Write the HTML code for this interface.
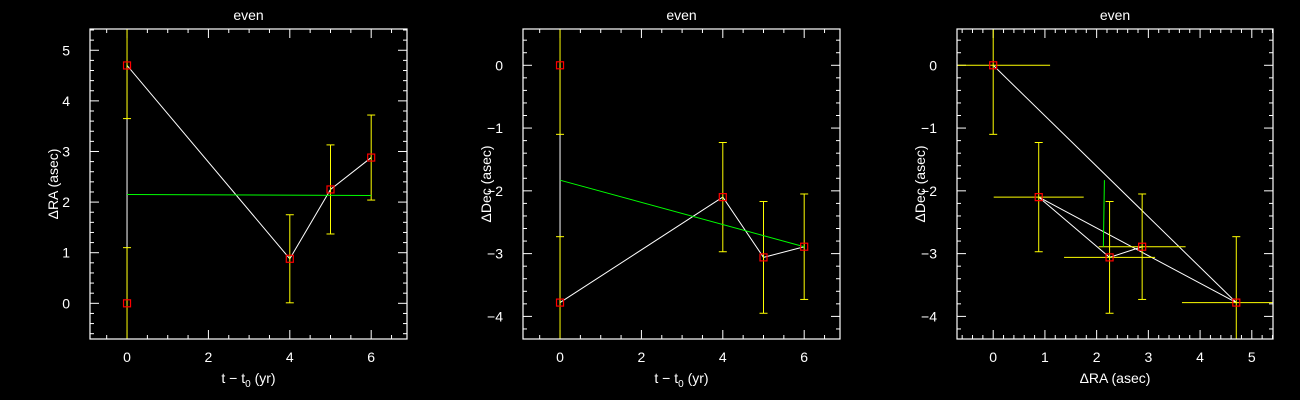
<!DOCTYPE html>
<html><head><meta charset="utf-8"><style>
html,body{margin:0;padding:0;background:#000;}
svg{display:block;}
text{font-family:"Liberation Sans","DejaVu Sans",sans-serif;fill:#fff;font-size:14px;}
</style></head><body>
<svg id="svg" width="1300" height="400" xmlns="http://www.w3.org/2000/svg"></svg>
<script>
const tYears=[0,0,4,5,6];
const raVals=[0,4.7,0.88,2.25,2.88];
const raErr=[1.1,1.05,0.87,0.88,0.84];
const decVals=[0,-3.78,-2.1,-3.06,-2.89];
const decErr=[1.1,1.05,0.87,0.89,0.84];
const fitT=[0,6];
const fitRA=[2.15,2.13];
const fitDec=[-1.83,-2.89];
const xTicksT=[0,2,4,6];
const yTicksRA=[0,1,2,3,4,5];
const yTicksDec=[0,-1,-2,-3,-4];
const xTicksRA=[0,1,2,3,4,5];

const svg=document.getElementById('svg');
const NS='http://www.w3.org/2000/svg';
function mk(tag,attrs,parent){const e=document.createElementNS(NS,tag);for(const k in attrs)e.setAttribute(k,attrs[k]);(parent||svg).appendChild(e);return e;}

function panel(cfg){
  const g=mk('g',{});
  
  
  const L=cfg.box[0],R=cfg.box[1],T=cfg.box[2],B=cfg.box[3];
  const sx=v=>L+(v-cfg.xr[0])/(cfg.xr[1]-cfg.xr[0])*(R-L);
  const sy=v=>B-(v-cfg.yr[0])/(cfg.yr[1]-cfg.yr[0])*(B-T);
  const clip='clip'+cfg.name;
  const cp=mk('clipPath',{id:clip},g);mk('rect',{x:L,y:T,width:R-L,height:B-T},cp);
  // ticks
  const tg=mk('g',{},g);
  
  
  for(let v=Math.ceil(cfg.xr[0]/cfg.xminor)*cfg.xminor;v<=cfg.xr[1];v+=cfg.xminor){
    const major=Math.abs(v/cfg.xmajor-Math.round(v/cfg.xmajor))<1e-6;const len=major?9:4;const x=sx(v);
    mk('line',{x1:x,x2:x,y1:B,y2:B-len,stroke:'#fff','stroke-width':1},tg);
    mk('line',{x1:x,x2:x,y1:T,y2:T+len,stroke:'#fff','stroke-width':1},tg);
  }
  for(let v=Math.ceil(cfg.yr[0]/cfg.yminor)*cfg.yminor;v<=cfg.yr[1];v+=cfg.yminor){
    const major=Math.abs(v/cfg.ymajor-Math.round(v/cfg.ymajor))<1e-6;const len=major?9:4;const y=sy(v);
    mk('line',{x1:L,x2:L+len,y1:y,y2:y,stroke:'#fff','stroke-width':1},tg);
    mk('line',{x1:R,x2:R-len,y1:y,y2:y,stroke:'#fff','stroke-width':1},tg);
  }
  cfg.xt.forEach(v=>{const t=mk('text',{x:sx(v),y:B+23,'text-anchor':'middle'},g);t.textContent=String(v).replace('-','\u2212');
    
    });
  cfg.yt.forEach(v=>{const t=mk('text',{x:L-20,y:sy(v)+5,'text-anchor':'end'},g);t.textContent=String(v).replace('-','\u2212');
    
    });
  const ti=mk('text',{x:(L+R)/2,y:20,'text-anchor':'middle'},g);ti.textContent='even';
  
  
  const xl=mk('text',{x:(L+R)/2,y:B+44,'text-anchor':'middle'},g);xl.innerHTML=cfg.xlab;
  
  
  const yl=mk('text',{x:0,y:0,'text-anchor':'middle',transform:`translate(${L-32},${(T+B)/2}) rotate(-90)`},g);yl.textContent=cfg.ylab;
  
  
  const pg=mk('g',{'clip-path':`url(#${clip})`},g);
  // white connecting line
  const pts=cfg.xs.map((x,i)=>sx(x)+','+sy(cfg.ys[i])).join(' ');
  const pl=mk('polyline',{points:pts,fill:'none',stroke:'#fff','stroke-width':1},pg);
  
  
  // error bars
  cfg.xs.forEach((x,i)=>{
    const y=cfg.ys[i];
    if(cfg.ye){const e=cfg.ye[i];const X=sx(x);
      const eb=mk('line',{x1:X,x2:X,y1:sy(y-e),y2:sy(y+e),stroke:'#ff0','stroke-width':1},pg);
      
      
      if(cfg.caps){[y-e,y+e].forEach(v=>mk('line',{x1:X-4,x2:X+4,y1:sy(v),y2:sy(v),stroke:'#ff0','stroke-width':1},pg));}}
    if(cfg.xe){const e=cfg.xe[i];const Y=sy(y);
      const eb=mk('line',{x1:sx(x-e),x2:sx(x+e),y1:Y,y2:Y,stroke:'#ff0','stroke-width':1},pg);
      
      }
  });
  // fit
  const fl=mk('polyline',{points:cfg.fx.map((x,i)=>sx(x)+','+sy(cfg.fy[i])).join(' '),fill:'none',stroke:'#0f0','stroke-width':1},pg);
  
  
  // markers
  cfg.xs.forEach((x,i)=>{const r=mk('rect',{x:sx(x)-3.5,y:sy(cfg.ys[i])-3.5,width:7,height:7,fill:'none',stroke:'#f00','stroke-width':1.2},pg);
    
    });
  mk('rect',{x:L,y:T,width:R-L,height:B-T,fill:'none',stroke:'#fff','stroke-width':1.2},g);
}
const tlab='t \u2212 t<tspan font-size="10" dy="4">0</tspan><tspan dy="-4"> (yr)</tspan>';
panel({name:'panel-ra-vs-time',box:[90,407,29,339],xr:[-0.91,6.88],yr:[-0.705,5.42],xmajor:2,xminor:0.5,ymajor:1,yminor:0.2,
  xt:xTicksT,yt:yTicksRA,xlab:tlab,ylab:'\u0394RA (asec)',xs:tYears,ys:raVals,ye:raErr,caps:true,fx:fitT,fy:fitRA});
panel({name:'panel-dec-vs-time',box:[523,840,29,339],xr:[-0.91,6.88],yr:[-4.36,0.578],xmajor:2,xminor:0.5,ymajor:1,yminor:0.2,
  xt:xTicksT,yt:yTicksDec,xlab:tlab,ylab:'\u0394Dec (asec)',xs:tYears,ys:decVals,ye:decErr,caps:true,fx:fitT,fy:fitDec});
panel({name:'panel-dec-vs-ra',box:[957,1273,29,339],xr:[-0.70,5.41],yr:[-4.36,0.578],xmajor:1,xminor:0.2,ymajor:1,yminor:0.2,
  xt:xTicksRA,yt:yTicksDec,xlab:'\u0394RA (asec)',ylab:'\u0394Dec (asec)',xs:raVals,ys:decVals,ye:decErr,xe:raErr,caps:true,fx:fitRA,fy:fitDec});
</script>
</body></html>
